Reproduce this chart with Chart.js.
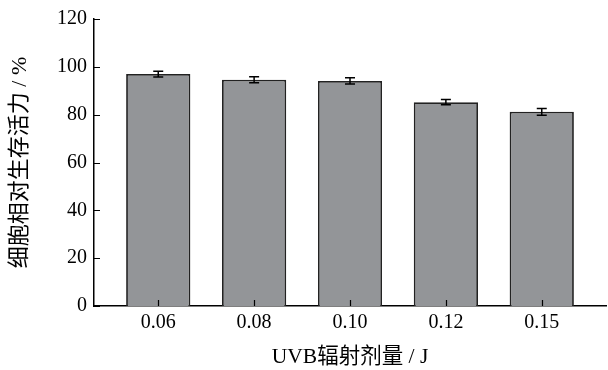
<!DOCTYPE html>
<html>
<head>
<meta charset="utf-8">
<script src="https://cdn.jsdelivr.net/npm/chart.js@4"></script>
<style>body{margin:0;background:#fff}</style>
</head>
<body>
<canvas id="c" width="608" height="370"></canvas>
<script>
// dose categories and cell viability (%) with error bars
const doseLabels = ['0.06', '0.08', '0.10', '0.12', '0.15'];
const viability = [97.0, 94.6, 94.1, 85.2, 81.2];
const viabilityErr = [1.2, 1.3, 1.3, 1.1, 1.4];
const yTicks = [0, 20, 40, 60, 80, 100, 120];

const serif = "'Liberation Serif', 'Noto Sans CJK SC', serif";

// inward tick marks + error bars
const extrasPlugin = {
    id: 'extras',
    afterDatasetsDraw(chart) {
        const ctx = chart.ctx;
        const xs = chart.scales.x, ys = chart.scales.y;
        ctx.save();
        ctx.strokeStyle = '#000';
        ctx.lineWidth = 1.5;
        // error bars
        viability.forEach((v, i) => {
            const px = xs.getPixelForValue(i + 1);
            const top = ys.getPixelForValue(v + viabilityErr[i]);
            const bot = ys.getPixelForValue(v - viabilityErr[i]);
            ctx.beginPath();
            ctx.moveTo(px, top); ctx.lineTo(px, bot);
            ctx.moveTo(px - 5, top); ctx.lineTo(px + 5, top);
            ctx.moveTo(px - 5, bot); ctx.lineTo(px + 5, bot);
            ctx.stroke();
        });
        // ticks pointing into the plot
        ctx.lineWidth = 1.2;
        ctx.beginPath();
        yTicks.forEach(t => {
            const py = Math.round(ys.getPixelForValue(t)) + 0.5;
            ctx.moveTo(xs.left, py); ctx.lineTo(xs.left + 6, py);
        });
        doseLabels.forEach((l, i) => {
            const px = Math.round(xs.getPixelForValue(i + 1)) + 0.5;
            ctx.moveTo(px, ys.bottom); ctx.lineTo(px, ys.bottom - 6);
        });
        ctx.stroke();
        ctx.restore();
    }
};

const ctx = document.getElementById('c').getContext('2d');
new Chart(ctx, {
    type: 'bar',
    data: {
        datasets: [{
            data: viability.map((v, i) => ({ x: i + 1, y: v })),
            backgroundColor: '#939598',
            borderColor: '#222',
            borderWidth: 1.8,
            categoryPercentage: 1,
            barPercentage: 0.67
        }]
    },
    options: {
        responsive: false,
        animation: false,
        layout: { padding: { top: 19, right: 2, left: 0, bottom: 0 } },
        plugins: { legend: { display: false }, tooltip: { enabled: false } },
        scales: {
            x: {
                type: 'linear',
                offset: false,
                min: 0.33,
                max: 5.67,
                afterBuildTicks: axis => { axis.ticks = doseLabels.map((l, i) => ({ value: i + 1 })); },
                afterFit: scale => { scale.height = 64; },
                grid: { display: false, drawTicks: false, offset: false },
                border: { display: true, color: '#000', width: 1.5 },
                ticks: {
                    callback: (v) => doseLabels[v - 1],
                    color: '#000',
                    font: { family: serif, size: 20 },
                    padding: 5,
                    maxRotation: 0
                },
                title: {
                    display: true,
                    text: 'UVB辐射剂量 / J',
                    color: '#000',
                    font: { family: serif, size: 21.5 },
                    padding: { top: 0, bottom: 0 }
                }
            },
            y: {
                min: 0,
                max: 120,
                afterBuildTicks: axis => { axis.ticks = yTicks.map(v => ({ value: v })); },
                afterFit: scale => { scale.width = 94; },
                grid: { display: false, drawTicks: false },
                border: { display: true, color: '#000', width: 1.5 },
                ticks: {
                    color: '#000',
                    font: { family: serif, size: 20 },
                    padding: 7
                },
                title: {
                    display: true,
                    text: '细胞相对生存活力 / %',
                    color: '#000',
                    font: { family: serif, size: 22 },
                    padding: { top: 7, bottom: 0 }
                }
            }
        }
    },
    plugins: [extrasPlugin]
});
</script>
</body>
</html>
